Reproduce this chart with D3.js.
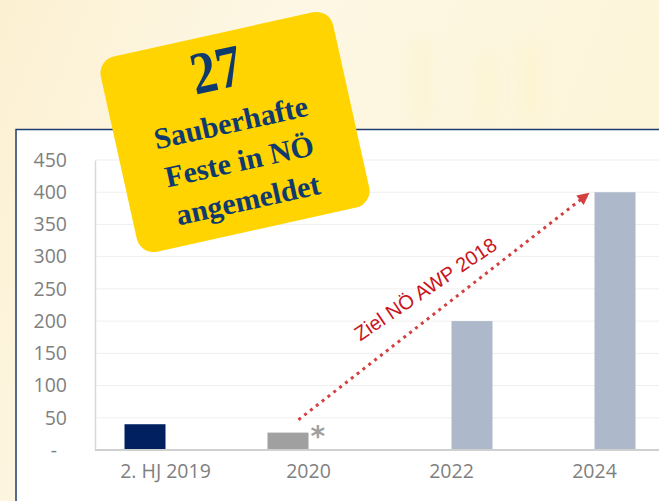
<!DOCTYPE html>
<html>
<head>
<meta charset="utf-8">
<script src="https://cdn.jsdelivr.net/npm/d3@7"></script>
<style>
  body { margin: 0; background: #fdf6e0; }
  svg { display: block; }
</style>
</head>
<body>
<div id="chart"></div>
<script>
const width = 659;
const height = 501;

// data
const categories = ["2. HJ 2019", "2020", "2022", "2024"];
const istWerte = [40, 27, null, null];   // tatsächlich angemeldet
const zielWerte = [null, null, 200, 400]; // Ziel NÖ AWP 2018
const istFarben = ["#002060", "#a0a0a0"];
const yTicks = [0, 50, 100, 150, 200, 250, 300, 350, 400, 450];
const badgeZeilen = ["Sauberhafte", "Feste in NÖ", "angemeldet"];
const badgeZahl = "27";
const zielText = "Ziel NÖ AWP 2018";
// arrow goes from just above the 2020 bar up to the 2024 target
const pfeilVon = { cat: "2020", value: 47 };
const pfeilBis = { cat: "2024", value: 398 };

const svg = d3.select("#chart").append("svg")
  .attr("width", width)
  .attr("height", height);

const defs = svg.append("defs");

/// background ///
const bgGrad = defs.append("linearGradient")
  .attr("id", "bg").attr("x1", 0).attr("y1", 0).attr("x2", 1).attr("y2", 0.3);
bgGrad.append("stop").attr("offset", "0%").attr("stop-color", "#fcf0d2");
bgGrad.append("stop").attr("offset", "40%").attr("stop-color", "#fdf7e4");
bgGrad.append("stop").attr("offset", "100%").attr("stop-color", "#fdf5d9");

defs.append("filter").attr("id", "blur")
  .append("feGaussianBlur").attr("stdDeviation", 8);

svg.append("rect")
  .attr("width", width).attr("height", height)
  .attr("fill", "url(#bg)");

// faint blurry shapes of the photo behind
const blobs = svg.append("g").attr("filter", "url(#blur)").attr("opacity", 0.09);
blobs.append("rect").attr("x", 412).attr("y", 40).attr("width", 18).attr("height", 80).attr("fill", "#f5dc60");
blobs.append("rect").attr("x", 478).attr("y", 55).attr("width", 16).attr("height", 65).attr("fill", "#f5dc60");
blobs.append("rect").attr("x", 520).attr("y", 45).attr("width", 20).attr("height", 75).attr("fill", "#f5dc60");

/// white panel ///
svg.append("rect")
  .attr("x", 16).attr("y", 129.5)
  .attr("width", 700).attr("height", 420)
  .attr("fill", "#ffffff")
  .attr("stroke", "#1f3c70")
  .attr("stroke-width", 1.5);

/// scales ///
const x0 = d3.scaleBand()
  .domain(categories)
  .range([94, 666]);

const barW = 41;
const x1 = d3.scaleBand()
  .domain(["ist", "ziel"])
  .range([x0.bandwidth() / 2 - barW, x0.bandwidth() / 2 + barW]);

const y = d3.scaleLinear()
  .domain([0, 450])
  .range([450, 160]);

const plotLeft = 95;

/// gridlines ///
svg.append("g")
  .selectAll("line")
  .data(yTicks.filter(d => d > 0))
  .join("line")
  .attr("x1", plotLeft).attr("x2", width)
  .attr("y1", d => y(d)).attr("y2", d => y(d))
  .attr("stroke", "#efefef")
  .attr("stroke-width", 1);

/// y axis ///
const yAxis = svg.append("g")
  .attr("transform", `translate(${plotLeft},0)`)
  .call(d3.axisLeft(y)
    .tickValues(yTicks)
    .tickSize(0)
    .tickPadding(28)
    .tickFormat(d => d === 0 ? "-" : d));
yAxis.select(".domain").attr("stroke", "#d9d9d9").attr("stroke-width", 1.5);
yAxis.selectAll("text")
  .attr("fill", "#7f7f7f")
  .style("font-family", "'Open Sans', sans-serif")
  .style("font-size", "19.5px")
  .attr("dx", d => d === 0 ? -10 : 0);

/// x axis ///
const xAxis = svg.append("g")
  .attr("transform", `translate(0,${y(0)})`)
  .call(d3.axisBottom(x0).tickSize(0).tickPadding(14));
xAxis.select(".domain").remove();
xAxis.selectAll("text")
  .attr("fill", "#7f7f7f")
  .style("font-family", "'Open Sans', sans-serif")
  .style("font-size", "19.5px");

/// bars ///
const istBars = categories.map((c, i) => ({ cat: c, value: istWerte[i], color: istFarben[i] }))
  .filter(d => d.value != null);
const zielBars = categories.map((c, i) => ({ cat: c, value: zielWerte[i] }))
  .filter(d => d.value != null);

svg.append("g")
  .selectAll("rect")
  .data(istBars)
  .join("rect")
  .attr("x", d => x0(d.cat) + x1("ist"))
  .attr("width", x1.bandwidth())
  .attr("y", d => y(d.value))
  .attr("height", d => y(0) - y(d.value))
  .attr("fill", d => d.color);

svg.append("g")
  .selectAll("rect")
  .data(zielBars)
  .join("rect")
  .attr("x", d => x0(d.cat) + x1("ziel"))
  .attr("width", x1.bandwidth())
  .attr("y", d => y(d.value))
  .attr("height", d => y(0) - y(d.value))
  .attr("fill", "#adb9ca");

// baseline
svg.append("line")
  .attr("x1", plotLeft).attr("x2", width)
  .attr("y1", y(0)).attr("y2", y(0))
  .attr("stroke", "#d0d0d0")
  .attr("stroke-width", 2);

// asterisk next to the 2020 bar (partial value)
svg.append("text")
  .attr("x", x0("2020") + x1("ist") + x1.bandwidth() + 2)
  .attr("y", y(27) + 13)
  .attr("fill", "#a0a0a0")
  .style("font-family", "'DejaVu Sans', sans-serif")
  .style("font-weight", "bold")
  .style("font-size", "28px")
  .text("*");

/// target arrow ///
defs.append("marker")
  .attr("id", "arrowhead")
  .attr("viewBox", "0 0 10 10")
  .attr("refX", 9).attr("refY", 5)
  .attr("markerWidth", 14).attr("markerHeight", 12)
  .attr("markerUnits", "userSpaceOnUse")
  .attr("orient", "auto")
  .append("path")
  .attr("d", "M0,0 L10,5 L0,10 Z")
  .attr("fill", "#d2403f");

const ax1 = x0(pfeilVon.cat) + x0.bandwidth() / 2 - 10;
const ay1 = y(pfeilVon.value);
const ax2 = x0(pfeilBis.cat) + x0.bandwidth() / 2 - 6;
const ay2 = y(pfeilBis.value);

svg.append("line")
  .attr("x1", ax1).attr("y1", ay1)
  .attr("x2", ax2).attr("y2", ay2)
  .attr("stroke", "#d2403f")
  .attr("stroke-width", 3)
  .attr("stroke-dasharray", "3 4.4")
  .attr("marker-end", "url(#arrowhead)");

// label over the arrow
const len = Math.hypot(ax2 - ax1, ay2 - ay1);
const ux = (ax2 - ax1) / len, uy = (ay2 - ay1) / len;
const tx = ax1 + ux * 180 + uy * 18;
const ty = ay1 + uy * 180 - ux * 18;
svg.append("text")
  .attr("transform", `translate(${tx},${ty}) rotate(-34)`)
  .attr("text-anchor", "middle")
  .attr("fill", "#c8161e")
  .style("font-family", "'Liberation Sans', Arial, sans-serif")
  .style("font-size", "20px")
  .text(zielText);

/// yellow badge ///
const badge = svg.append("g")
  .attr("transform", "translate(235,132) rotate(-12.5)");

badge.append("rect")
  .attr("x", -119).attr("y", -100)
  .attr("width", 238).attr("height", 200)
  .attr("rx", 17)
  .attr("fill", "#ffd400");

badge.append("text")
  .attr("transform", "translate(-5,-45) scale(0.85,1)")
  .attr("text-anchor", "middle")
  .attr("fill", "#0f3a6e")
  .style("font-family", "'Liberation Serif', serif")
  .style("font-weight", "bold")
  .style("font-size", "60px")
  .text(badgeZahl);

badge.append("g")
  .selectAll("text")
  .data(badgeZeilen)
  .join("text")
  .attr("x", -2)
  .attr("y", (d, i) => 0 + i * 39.5)
  .attr("text-anchor", "middle")
  .attr("fill", "#0f3a6e")
  .style("font-family", "'Liberation Serif', serif")
  .style("font-weight", "bold")
  .style("font-size", "30px")
  .text(d => d);
</script>
</body>
</html>
